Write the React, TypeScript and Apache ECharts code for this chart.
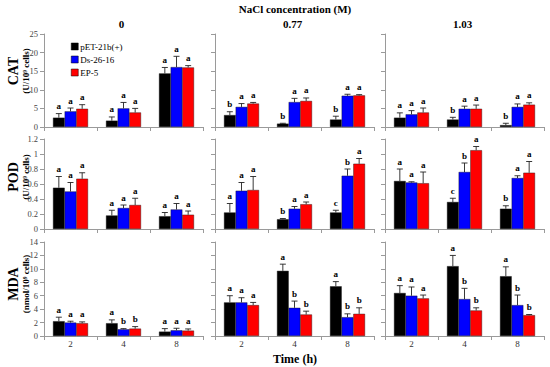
import React, { useEffect, useRef } from "react";
import * as echarts from "echarts";

const timeLabels = ["2", "4", "8"];
const concLabels = ["0", "0.77", "1.03"];
const strains = ["pET-21b(+)", "Ds-26-16", "EP-5"];
const strainColors = ["#000000", "#0000FF", "#FF0000"];

// [conc][strain][time]
const catMean = [
  [[2.5, 1.7, 14.4], [4.2, 5.0, 16.1], [4.9, 3.9, 16.0]],
  [[3.2, 0.9, 2.0], [5.4, 6.7, 8.4], [6.3, 7.0, 8.5]],
  [[2.5, 2.0, 0.5], [3.4, 4.9, 5.4], [3.9, 4.9, 6.0]],
];
const catErr = [
  [[1.1, 1.0, 1.6], [0.9, 1.6, 2.9], [1.1, 1.1, 0.5]],
  [[0.9, 0.1, 0.9], [0.9, 1.0, 0.4], [0.3, 0.8, 0.2]],
  [[1.3, 0.6, 0.5], [1.0, 0.7, 0.8], [1.2, 1.0, 0.5]],
];
const catLetters = [
  [["a", "a", "a"], ["a", "a", "a"], ["a", "a", "a"]],
  [["b", "b", "b"], ["a", "a", "a"], ["a", "a", "a"]],
  [["a", "b", "b"], ["a", "a", "a"], ["a", "a", "a"]],
];

const podMean = [
  [[0.55, 0.18, 0.17], [0.5, 0.28, 0.26], [0.67, 0.32, 0.19]],
  [[0.22, 0.13, 0.22], [0.51, 0.27, 0.71], [0.52, 0.33, 0.87]],
  [[0.64, 0.36, 0.27], [0.62, 0.76, 0.68], [0.61, 1.05, 0.75]],
];
const podErr = [
  [[0.15, 0.07, 0.05], [0.12, 0.04, 0.08], [0.08, 0.09, 0.05]],
  [[0.12, 0.01, 0.03], [0.11, 0.03, 0.09], [0.18, 0.03, 0.07]],
  [[0.16, 0.05, 0.04], [0.01, 0.12, 0.03], [0.15, 0.05, 0.15]],
];
const podLetters = [
  [["a", "a", "a"], ["a", "a", "a"], ["a", "a", "a"]],
  [["a", "b", "c"], ["a", "a", "b"], ["a", "a", "a"]],
  [["a", "c", "b"], ["a", "b", "a"], ["a", "a", "a"]],
];

const mdaMean = [
  [[2.2, 1.9, 0.65], [2.0, 1.0, 0.85], [1.9, 1.1, 0.8]],
  [[5.0, 9.7, 7.4], [5.0, 4.2, 2.8], [4.6, 3.2, 3.3]],
  [[6.4, 10.4, 8.9], [6.0, 5.5, 4.6], [5.6, 3.8, 3.1]],
];
const mdaErr = [
  [[0.6, 0.5, 0.45], [0.2, 0.1, 0.3], [0.2, 0.3, 0.25]],
  [[1.0, 1.0, 0.7], [0.7, 1.0, 0.5], [0.4, 0.5, 0.9]],
  [[1.1, 1.6, 1.4], [1.3, 1.6, 1.5], [0.5, 0.4, 0.1]],
];
const mdaLetters = [
  [["a", "a", "a"], ["a", "b", "a"], ["a", "b", "a"]],
  [["a", "a", "a"], ["a", "b", "b"], ["a", "b", "b"]],
  [["a", "a", "a"], ["a", "b", "b"], ["a", "b", "b"]],
];

const rowNames = ["CAT", "POD", "MDA"];
const rowUnits = ["(U/10⁹ cells)", "(U/10⁹ cells)", "(nmol/10⁹ cells)"];
const rowMax = [25, 1.2, 14];
const rowInterval = [5, 0.2, 2];

const FONT = '"Liberation Serif", "Times New Roman", serif';

export default function App() {
  const ref = useRef<HTMLDivElement>(null);
  useEffect(() => {
    document.body.style.margin = "0";
    const chart = echarts.init(ref.current!, null, { renderer: "svg" });
    const means = [catMean, podMean, mdaMean];
    const errs = [catErr, podErr, mdaErr];
    const letters = [catLetters, podLetters, mdaLetters];
    const colLeft = [44, 215, 385];
    const colWidth = 159;
    const rowTop = [34, 139, 242];
    const rowHeight = [93, 90, 94];

    const grids: any[] = [];
    const xAxes: any[] = [];
    const yAxes: any[] = [];
    const series: any[] = [];
    const graphics: any[] = [];

    for (let r = 0; r < 3; r++) {
      for (let c = 0; c < 3; c++) {
        const g = r * 3 + c;
        grids.push({ left: colLeft[c], top: rowTop[r], width: colWidth, height: rowHeight[r] });
        xAxes.push({
          type: "category",
          gridIndex: g,
          data: timeLabels,
          axisLine: { lineStyle: { color: "#9a9a9a" } },
          axisTick: { show: true, length: 4, lineStyle: { color: "#9a9a9a" } },
          axisLabel: {
            show: r === 2,
            fontFamily: FONT,
            fontSize: 9,
            color: "#333",
            margin: 3,
          },
        });
        yAxes.push({
          type: "value",
          gridIndex: g,
          min: 0,
          max: rowMax[r],
          interval: rowInterval[r],
          splitLine: { show: false },
          axisLine: { show: true, lineStyle: { color: "#9a9a9a" } },
          axisTick: { show: true, length: 4, lineStyle: { color: "#9a9a9a" } },
          axisLabel: {
            show: c === 0,
            fontFamily: FONT,
            fontSize: 8.5,
            color: "#444",
            margin: 6,
          },
        });
        for (let s = 0; s < 3; s++) {
          const m = means[r][c][s];
          const e = errs[r][c][s];
          const l = letters[r][c][s];
          series.push({
            type: "bar",
            name: strains[s],
            xAxisIndex: g,
            yAxisIndex: g,
            data: m,
            barGap: "0%",
            barCategoryGap: "34%",
            itemStyle: { color: strainColors[s], borderColor: "#111", borderWidth: 0.4 },
          });
          const offset = (s - 1) * 0.22;
          series.push({
            type: "custom",
            xAxisIndex: g,
            yAxisIndex: g,
            z: 5,
            data: m.map((v, i) => [i, v, e[i]]),
            encode: { x: 0, y: 1 },
            renderItem: (params: any, api: any) => {
              const cat = api.value(0);
              const v = api.value(1);
              const er = api.value(2);
              const base = api.coord([cat, v]);
              const top = api.coord([cat, v + er]);
              const band = api.size([1, 0])[0];
              const x = base[0] + offset * band;
              const st = { stroke: "#222", lineWidth: 0.9 };
              return {
                type: "group",
                children: [
                  { type: "line", shape: { x1: x, y1: base[1], x2: x, y2: top[1] }, style: st },
                  { type: "line", shape: { x1: x - 3, y1: top[1], x2: x + 3, y2: top[1] }, style: st },
                  {
                    type: "text",
                    style: {
                      text: l[params.dataIndex],
                      x: x,
                      y: top[1] - 3,
                      textAlign: "center",
                      textVerticalAlign: "bottom",
                      font: `bold 9px ${FONT}`,
                      fill: "#000",
                    },
                  },
                ],
              };
            },
          });
        }
      }
      const cy = [71, 177, 284][r];
      graphics.push({
        type: "text",
        x: 13,
        y: cy,
        rotation: Math.PI / 2,
        style: {
          text: rowNames[r],
          font: `bold 14px ${FONT}`,
          fill: "#000",
          textAlign: "center",
          textVerticalAlign: "middle",
        },
      });
      graphics.push({
        type: "text",
        x: 26,
        y: cy,
        rotation: Math.PI / 2,
        style: {
          text: rowUnits[r],
          font: `bold 9px ${FONT}`,
          fill: "#000",
          textAlign: "center",
          textVerticalAlign: "middle",
        },
      });
    }

    graphics.push({
      type: "text",
      x: 295,
      y: 9,
      style: {
        text: "NaCl concentration (M)",
        font: `bold 11px ${FONT}`,
        fill: "#000",
        textAlign: "center",
        textVerticalAlign: "middle",
      },
    });
    for (let c = 0; c < 3; c++) {
      graphics.push({
        type: "text",
        x: colLeft[c] + colWidth / 2 - 2,
        y: 24,
        style: {
          text: concLabels[c],
          font: `bold 11px ${FONT}`,
          fill: "#000",
          textAlign: "center",
          textVerticalAlign: "middle",
        },
      });
    }
    graphics.push({
      type: "text",
      x: 295,
      y: 359,
      style: {
        text: "Time (h)",
        font: `bold 12px ${FONT}`,
        fill: "#000",
        textAlign: "center",
        textVerticalAlign: "middle",
      },
    });

    chart.setOption({
      animation: false,
      textStyle: { fontFamily: FONT },
      grid: grids,
      xAxis: xAxes,
      yAxis: yAxes,
      series,
      graphic: graphics,
      legend: {
        data: strains,
        orient: "vertical",
        left: 66,
        top: 37,
        itemWidth: 7,
        itemHeight: 7,
        itemGap: 4,
        icon: "rect",
        textStyle: { fontFamily: FONT, fontSize: 9, color: "#000", padding: [0, 0, 0, -3] },
        itemStyle: { borderColor: "#000", borderWidth: 0.5 },
      },
    });
    return () => chart.dispose();
  }, []);
  return <div ref={ref} style={{ width: 550, height: 367 }} />;
}
